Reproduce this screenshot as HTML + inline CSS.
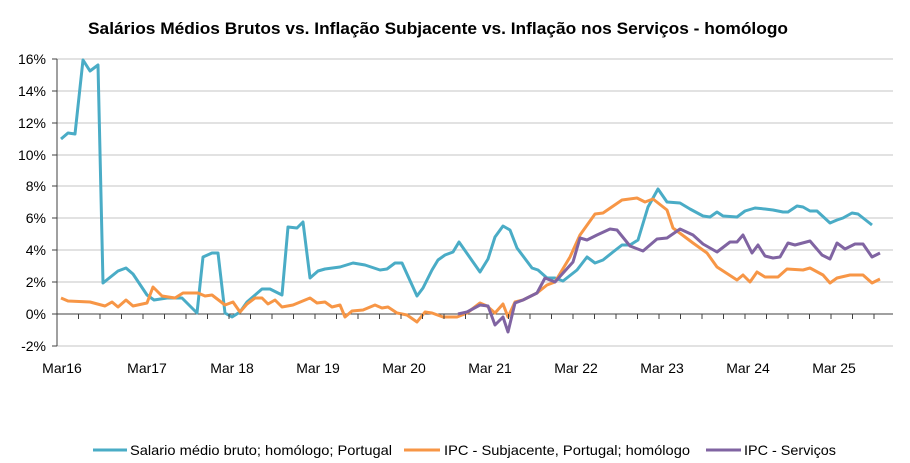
<!DOCTYPE html>
<html><head><meta charset="utf-8"><style>
html,body{margin:0;padding:0;background:#fff;}
svg{display:block;font-family:"Liberation Sans",Arial,sans-serif;}
</style></head><body>
<svg width="910" height="463" viewBox="0 0 910 463" xmlns="http://www.w3.org/2000/svg">
<rect width="910" height="463" fill="#fff"/>
<text x="438" y="34" text-anchor="middle" font-size="17" font-weight="bold" fill="#000" textLength="700" lengthAdjust="spacingAndGlyphs">Salários Médios Brutos vs. Inflação Subjacente vs. Inflação nos Serviços - homólogo</text>
<g stroke="#d9d9d9" stroke-width="1.5">
<line x1="57" x2="893" y1="59" y2="59"/><line x1="57" x2="893" y1="91" y2="91"/><line x1="57" x2="893" y1="123" y2="123"/><line x1="57" x2="893" y1="155" y2="155"/><line x1="57" x2="893" y1="186" y2="186"/><line x1="57" x2="893" y1="218" y2="218"/><line x1="57" x2="893" y1="250" y2="250"/><line x1="57" x2="893" y1="282" y2="282"/><line x1="57" x2="893" y1="346" y2="346"/>
</g>
<g stroke="#404040" stroke-width="1">
<line x1="57" x2="57" y1="59" y2="346"/>
<line x1="57" x2="893" y1="314" y2="314"/>
<line x1="52" x2="57" y1="59" y2="59"/><line x1="52" x2="57" y1="91" y2="91"/><line x1="52" x2="57" y1="123" y2="123"/><line x1="52" x2="57" y1="155" y2="155"/><line x1="52" x2="57" y1="186" y2="186"/><line x1="52" x2="57" y1="218" y2="218"/><line x1="52" x2="57" y1="250" y2="250"/><line x1="52" x2="57" y1="282" y2="282"/><line x1="52" x2="57" y1="314" y2="314"/><line x1="52" x2="57" y1="346" y2="346"/>
</g>
<g stroke="#404040" stroke-width="1" id="ticks"></g>
<g font-size="14" fill="#000" text-anchor="end">
<text x="46" y="64">16%</text><text x="46" y="96">14%</text><text x="46" y="128">12%</text><text x="46" y="160">10%</text><text x="46" y="191">8%</text><text x="46" y="223">6%</text><text x="46" y="255">4%</text><text x="46" y="287">2%</text><text x="46" y="319">0%</text><text x="46" y="351">-2%</text>
</g>
<g font-size="14" fill="#000" text-anchor="middle">
<text x="62" y="373">Mar16</text><text x="147" y="373">Mar17</text><text x="232" y="373">Mar 18</text><text x="318" y="373">Mar 19</text><text x="404" y="373">Mar 20</text><text x="490" y="373">Mar 21</text><text x="576" y="373">Mar 22</text><text x="662" y="373">Mar 23</text><text x="748" y="373">Mar 24</text><text x="834" y="373">Mar 25</text>
</g>
<g fill="none" stroke-width="3" stroke-linejoin="round">
<polyline stroke="#4aacc6" points="61,139 68,133 75,134 83,60 90,71 98,65 103,283 118,271 126,268 133,274 147,295 154,300 167,298 182,298 197,313 203,257 212,253 218,253 225,313 232,317 240,312 247,302 262,289 270,289 282,295 288,227 297,228 303,222 310,278 318,271 325,269 340,267 353,263 365,265 380,270 387,269 395,263 402,263 417,296 423,288 432,270 438,260 445,255 453,252 459,242 473,262 480,272 488,259 495,237 503,226 510,230 517,248 532,268 538,270 547,278 555,278 563,281 577,270 587,257 595,263 603,260 613,252 622,245 630,245 638,240 648,207 658,189 667,202 680,203 690,209 703,216 710,217 717,212 723,216 737,217 745,211 755,208 765,209 773,210 783,212 788,212 797,206 803,207 810,211 817,211 830,223 837,220 843,218 852,213 858,214 872,225"/>
<polyline stroke="#f79646" points="61,298 68,301 90,302 105,306 112,302 118,307 126,300 133,306 147,303 153,287 162,296 175,298 183,293 198,293 205,296 212,295 225,305 233,302 240,312 247,304 255,298 262,298 268,304 275,300 282,307 293,305 310,298 317,303 325,302 332,307 340,305 345,317 352,311 363,310 375,305 382,308 388,307 397,313 407,315 417,322 425,312 432,313 443,317 457,317 467,313 480,303 487,306 495,313 503,304 508,317 515,302 523,300 537,293 547,285 555,282 570,257 580,235 595,214 603,213 622,200 637,198 645,202 653,199 667,210 673,228 693,243 707,253 717,267 737,280 743,275 750,282 757,272 765,277 778,277 787,269 803,270 810,268 823,275 830,283 837,278 850,275 863,275 872,283 880,279"/>
<polyline stroke="#8064a2" points="458,314 467,312 480,305 488,306 495,325 503,317 508,332 515,303 523,300 537,293 545,278 555,282 573,262 580,238 587,240 597,235 610,229 617,230 630,246 643,251 657,239 667,238 680,229 693,235 703,244 717,252 730,242 737,242 743,235 752,253 758,245 765,256 773,258 780,257 788,243 795,245 810,241 822,255 830,259 837,243 845,249 855,244 863,244 872,257 880,253"/>
</g>
<g stroke-width="3">
<line x1="93" x2="127" y1="450" y2="450" stroke="#4aacc6"/>
<line x1="404" x2="440" y1="450" y2="450" stroke="#f79646"/>
<line x1="706" x2="741" y1="450" y2="450" stroke="#8064a2"/>
</g>
<g font-size="14" fill="#000">
<text x="130" y="455" textLength="262" lengthAdjust="spacingAndGlyphs">Salario médio bruto; homólogo; Portugal</text>
<text x="444" y="455" textLength="246" lengthAdjust="spacingAndGlyphs">IPC - Subjacente, Portugal; homólogo</text>
<text x="744" y="455" textLength="92" lengthAdjust="spacingAndGlyphs">IPC - Serviços</text>
</g>
<g stroke="#404040" stroke-width="1">
<line x1="78.5" x2="78.5" y1="314" y2="319"/><line x1="100" x2="100" y1="314" y2="319"/><line x1="121.5" x2="121.5" y1="314" y2="319"/><line x1="143" x2="143" y1="314" y2="319"/><line x1="164.5" x2="164.5" y1="314" y2="319"/><line x1="186" x2="186" y1="314" y2="319"/><line x1="207.5" x2="207.5" y1="314" y2="319"/><line x1="229" x2="229" y1="314" y2="319"/><line x1="250.5" x2="250.5" y1="314" y2="319"/><line x1="272" x2="272" y1="314" y2="319"/><line x1="293.5" x2="293.5" y1="314" y2="319"/><line x1="315" x2="315" y1="314" y2="319"/><line x1="336.5" x2="336.5" y1="314" y2="319"/><line x1="358" x2="358" y1="314" y2="319"/><line x1="379.5" x2="379.5" y1="314" y2="319"/><line x1="401" x2="401" y1="314" y2="319"/><line x1="422.5" x2="422.5" y1="314" y2="319"/><line x1="444" x2="444" y1="314" y2="319"/><line x1="465.5" x2="465.5" y1="314" y2="319"/><line x1="487" x2="487" y1="314" y2="319"/><line x1="508.5" x2="508.5" y1="314" y2="319"/><line x1="530" x2="530" y1="314" y2="319"/><line x1="551.5" x2="551.5" y1="314" y2="319"/><line x1="573" x2="573" y1="314" y2="319"/><line x1="594.5" x2="594.5" y1="314" y2="319"/><line x1="616" x2="616" y1="314" y2="319"/><line x1="637.5" x2="637.5" y1="314" y2="319"/><line x1="659" x2="659" y1="314" y2="319"/><line x1="680.5" x2="680.5" y1="314" y2="319"/><line x1="702" x2="702" y1="314" y2="319"/><line x1="723.5" x2="723.5" y1="314" y2="319"/><line x1="745" x2="745" y1="314" y2="319"/><line x1="766.5" x2="766.5" y1="314" y2="319"/><line x1="788" x2="788" y1="314" y2="319"/><line x1="809.5" x2="809.5" y1="314" y2="319"/><line x1="831" x2="831" y1="314" y2="319"/><line x1="852.5" x2="852.5" y1="314" y2="319"/><line x1="874" x2="874" y1="314" y2="319"/>
</g>
</svg>
</body></html>
